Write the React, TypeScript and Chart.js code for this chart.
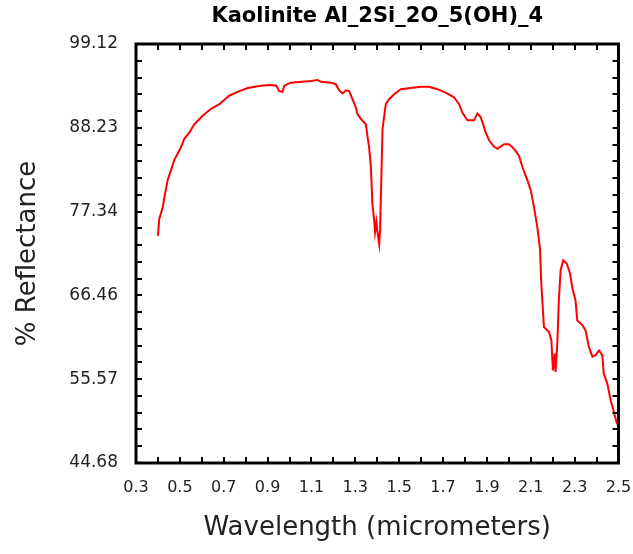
import React, { useEffect, useRef } from "react";
import { Chart, registerables } from "chart.js";

Chart.register(...registerables);

const TITLE = "Kaolinite Al_2Si_2O_5(OH)_4";
const X_TITLE = "Wavelength (micrometers)";
const Y_TITLE = "% Reflectance";

const xTickLabels = ["0.3", "0.5", "0.7", "0.9", "1.1", "1.3", "1.5", "1.7", "1.9", "2.1", "2.3", "2.5"];
const yTickLabels = ["44.68", "55.57", "66.46", "77.34", "88.23", "99.12"];

const wavelengths = [
  0.400, 0.406, 0.422, 0.429, 0.437, 0.444, 0.459, 0.474, 0.490, 0.505,
  0.520, 0.543, 0.566, 0.604, 0.642, 0.680, 0.725, 0.763, 0.809, 0.869,
  0.915, 0.940, 0.953, 0.968, 0.976, 1.006, 1.097, 1.128, 1.143, 1.188,
  1.211, 1.226, 1.242, 1.257, 1.272, 1.287, 1.302, 1.310, 1.325, 1.348,
  1.356, 1.363, 1.371, 1.378, 1.386, 1.390, 1.396, 1.402, 1.409, 1.413,
  1.424, 1.439, 1.454, 1.477, 1.507, 1.598, 1.636, 1.674, 1.712, 1.750,
  1.773, 1.788, 1.811, 1.841, 1.857, 1.872, 1.895, 1.910, 1.932, 1.948,
  1.978, 2.001, 2.024, 2.046, 2.062, 2.085, 2.100, 2.115, 2.130, 2.142,
  2.148, 2.160, 2.183, 2.194, 2.201, 2.209, 2.213, 2.221, 2.228, 2.236,
  2.248, 2.264, 2.279, 2.289, 2.304, 2.312, 2.335, 2.350, 2.365, 2.381,
  2.396, 2.411, 2.426, 2.433, 2.449, 2.464, 2.479, 2.491, 2.500,
];

const reflectance = [
  74.2, 76.4, 77.9, 79.2, 80.3, 81.4, 82.7, 84.0, 84.9, 85.7,
  86.8, 87.6, 88.7, 89.8, 90.7, 91.3, 92.4, 92.9, 93.4, 93.7,
  93.8, 93.7, 93.0, 92.9, 93.7, 94.1, 94.3, 94.45, 94.2, 94.1,
  93.9, 93.1, 92.7, 93.1, 93.0, 91.95, 90.9, 90.0, 89.4, 88.7,
  87.0, 85.7, 83.1, 78.3, 76.2, 74.7, 76.0, 74.5, 73.1, 75.0,
  88.1, 91.3, 91.95, 92.6, 93.25, 93.55, 93.55, 93.25, 92.8, 92.2,
  91.3, 90.2, 89.2, 89.2, 90.1, 89.6, 87.6, 86.6, 85.8, 85.5,
  86.1, 86.1, 85.5, 84.6, 83.1, 81.4, 80.1, 77.9, 75.3, 72.5,
  68.0, 62.35, 61.7, 60.6, 56.7, 58.9, 56.5, 60.2, 65.8, 69.7,
  71.0, 70.6, 69.3, 67.5, 65.8, 63.2, 62.6, 61.9, 59.75, 58.5,
  58.7, 59.3, 58.7, 56.3, 55.0, 52.85, 51.3, 50.0, 49.5,
];

const xTickValues = xTickLabels.map(Number);
const yTickValues = yTickLabels.map(Number);
const X_MIN = xTickValues[0];
const X_MAX = xTickValues[xTickValues.length - 1];
const Y_MIN = yTickValues[0];
const Y_MAX = yTickValues[yTickValues.length - 1];

const FONT = "'DejaVu Sans', sans-serif";

const framePlugin = {
  id: "frame",
  afterDatasetsDraw(chart: any) {
    const { ctx, chartArea, scales } = chart;
    const { left, right, top, bottom } = chartArea;
    const xs = scales.x;
    const ys = scales.y;
    ctx.save();
    ctx.strokeStyle = "#000";
    ctx.lineWidth = 2;
    const tl = 6;
    ctx.beginPath();
    const xMinorCount = Math.round((X_MAX - X_MIN) / 0.1);
    for (let i = 1; i < xMinorCount; i++) {
      const px = Math.round(xs.getPixelForValue(X_MIN + i * 0.1));
      ctx.moveTo(px, bottom);
      ctx.lineTo(px, bottom - tl);
      ctx.moveTo(px, top);
      ctx.lineTo(px, top + tl);
    }
    const yMinorCount = (yTickValues.length - 1) * 5;
    const yStep = (Y_MAX - Y_MIN) / yMinorCount;
    for (let i = 1; i < yMinorCount; i++) {
      const py = Math.round(ys.getPixelForValue(Y_MIN + i * yStep));
      ctx.moveTo(left, py);
      ctx.lineTo(left + tl, py);
      ctx.moveTo(right, py);
      ctx.lineTo(right - tl, py);
    }
    ctx.stroke();
    ctx.lineWidth = 3;
    ctx.strokeRect(left, top, right - left, bottom - top);
    ctx.restore();
  },
};

export default function App() {
  const canvasRef = useRef<HTMLCanvasElement | null>(null);

  useEffect(() => {
    const canvas = canvasRef.current;
    if (!canvas) return;
    const data = wavelengths.map((w, i) => ({ x: w, y: reflectance[i] }));
    const chart = new Chart(canvas, {
      type: "line",
      data: {
        datasets: [
          {
            data,
            borderColor: "#ff0000",
            borderWidth: 2,
            pointRadius: 0,
            tension: 0,
            fill: false,
          },
        ],
      },
      options: {
        animation: false,
        responsive: true,
        maintainAspectRatio: false,
        devicePixelRatio: 1,
        layout: { autoPadding: false, padding: { left: 0, right: 14.5, top: 0, bottom: 0 } },
        plugins: {
          legend: { display: false },
          tooltip: { enabled: false },
          title: {
            display: true,
            text: TITLE,
            fullSize: false,
            color: "#000",
            font: { family: FONT, size: 21, weight: "bold", lineHeight: 1.2 },
            padding: { top: 4.4, bottom: 14.4 },
          },
        },
        scales: {
          x: {
            type: "linear",
            min: X_MIN,
            max: X_MAX,
            grid: { display: false, drawTicks: false },
            border: { display: false },
            afterBuildTicks: (scale: any) => {
              scale.ticks = xTickValues.map((v) => ({ value: v }));
            },
            afterFit: (scale: any) => {
              scale.height = 91;
              scale.paddingLeft = 0;
              scale.paddingRight = 0;
            },
            ticks: {
              autoSkip: false,
              maxRotation: 0,
              padding: 15,
              color: "#222",
              font: { family: FONT, size: 16 },
              callback: (_v: any, i: number) => xTickLabels[i],
            },
            title: {
              display: true,
              text: X_TITLE,
              color: "#222",
              font: { family: FONT, size: 26, weight: "normal", lineHeight: 1.2 },
              padding: { top: 0, bottom: 10 },
            },
          },
          y: {
            type: "linear",
            min: Y_MIN,
            max: Y_MAX,
            grid: { display: false, drawTicks: false },
            border: { display: false },
            afterBuildTicks: (scale: any) => {
              scale.ticks = yTickValues.map((v) => ({ value: v }));
            },
            afterFit: (scale: any) => {
              scale.width = 136;
              scale.paddingTop = 0;
              scale.paddingBottom = 0;
            },
            ticks: {
              autoSkip: false,
              padding: 18,
              color: "#222",
              font: { family: FONT, size: 17 },
              callback: (_v: any, i: number) => yTickLabels[i],
            },
            title: {
              display: true,
              text: Y_TITLE,
              color: "#222",
              font: { family: FONT, size: 26, weight: "normal", lineHeight: 1.2 },
              padding: { top: 13, bottom: 0 },
            },
          },
        },
      },
      plugins: [framePlugin],
    });
    return () => chart.destroy();
  }, []);

  return (
    <div style={{ position: "absolute", left: 0, top: 0, width: 633, height: 554, background: "#fff" }}>
      <canvas ref={canvasRef} />
    </div>
  );
}
